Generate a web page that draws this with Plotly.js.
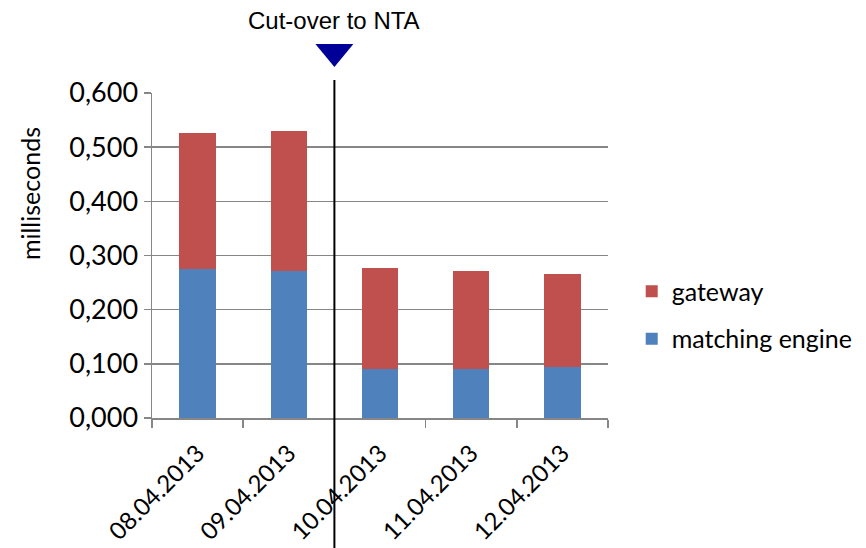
<!DOCTYPE html>
<html>
<head>
<meta charset="utf-8">
<script src="https://cdn.plot.ly/plotly-3.0.1.min.js"></script>
<style>html,body{margin:0;padding:0;background:#fff;}#chart{width:866px;height:548px;}</style>
</head>
<body>
<div id="chart"></div>
<script>
const categories = ["08.04.2013", "09.04.2013", "10.04.2013", "11.04.2013", "12.04.2013"];
const matchingEngine = [0.275, 0.272, 0.090, 0.090, 0.094];
const gateway = [0.251, 0.258, 0.187, 0.181, 0.172];
const seriesNames = ["matching engine", "gateway"];
const cutoverLabel = "Cut-over to NTA";
const yTitle = "milliseconds";

const bodyFont = "Lato, 'Open Sans', sans-serif";

const traces = [
  {type: "bar", name: seriesNames[0], x: categories, y: matchingEngine,
   marker: {color: "#4F81BD"}, legendgroup: "a", legendrank: 2, hoverinfo: "y"},
  {type: "bar", name: seriesNames[1], x: categories, y: gateway,
   marker: {color: "#C0504D"}, legendgroup: "b", legendrank: 1, hoverinfo: "y"}
];

const layout = {
  width: 866, height: 548,
  margin: {l: 152, r: 258, t: 93, b: 130, autoexpand: false},
  paper_bgcolor: "#fff", plot_bgcolor: "#fff",
  barmode: "stack", bargap: 0.6,
  separators: ",.",
  font: {family: bodyFont, size: 24, color: "#000"},
  showlegend: true,
  legend: {x: 1.052, xanchor: "left", y: 0.317, yanchor: "middle",
           traceorder: "grouped", tracegroupgap: 12,
           font: {family: bodyFont, size: 25, color: "#000"}, itemwidth: 30},
  xaxis: {type: "category", tickson: "boundaries", ticks: "outside", ticklen: 8,
          tickcolor: "#868686", tickwidth: 1.5, showline: true, linecolor: "#868686", linewidth: 1.5,
          tickangle: -45, showgrid: false, ticklabelstandoff: 10, automargin: false,
          tickfont: {family: bodyFont, size: 24, color: "#000"}},
  yaxis: {range: [0, 0.6], dtick: 0.1, tick0: 0, tickformat: ".3f", ticks: "outside", ticklen: 7,
          tickcolor: "#868686", tickwidth: 1.5, showline: true, linecolor: "#868686", linewidth: 1.5,
          showgrid: true, gridcolor: "#868686", gridwidth: 1.5, zeroline: false, automargin: false,
          tickfont: {family: bodyFont, size: 27, color: "#000"}},
  shapes: [
    {type: "line", xref: "x", yref: "paper", x0: 1.5, x1: 1.5, y0: -0.42, y1: 1.04,
     line: {color: "#000", width: 2}, layer: "above"},
    {type: "path", xref: "x", yref: "paper", xsizemode: "pixel", ysizemode: "pixel",
     xanchor: 1.5, yanchor: 1, path: "M-19,49 L19,49 L0,26 Z",
     fillcolor: "#000099", line: {width: 0}}
  ],
  annotations: [
    {text: cutoverLabel, xref: "x", yref: "paper", x: 1.5, y: 1.2246, showarrow: false,
     xanchor: "center", yanchor: "middle",
     font: {family: "'Liberation Sans', Arial, sans-serif", size: 24, color: "#000"}},
    {text: yTitle, xref: "paper", yref: "paper", x: -0.2675, y: 0.689, showarrow: false,
     textangle: -90, xanchor: "center", yanchor: "middle",
     font: {family: bodyFont, size: 25, color: "#000"}}
  ]
};

Plotly.newPlot("chart", traces, layout, {displayModeBar: false, staticPlot: true});
</script>
</body>
</html>
